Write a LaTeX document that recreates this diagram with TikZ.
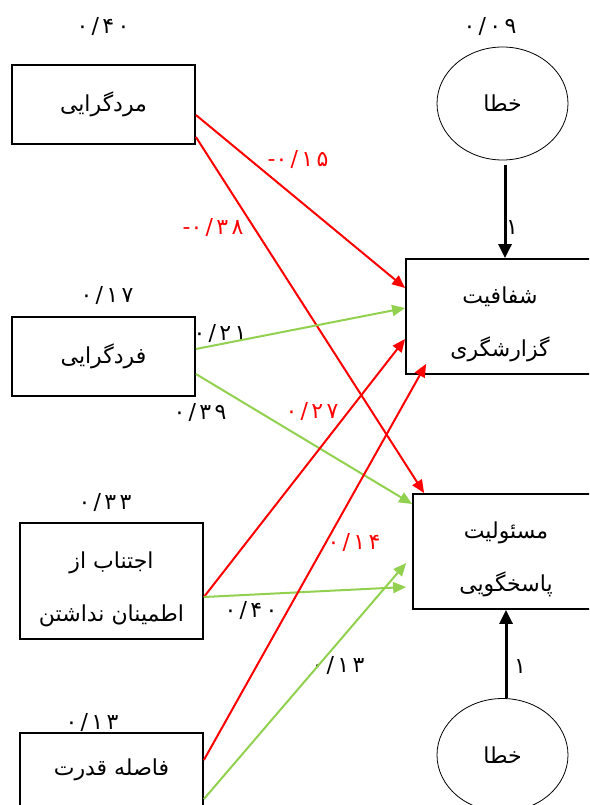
\documentclass[tikz,border=0pt]{standalone}
\usepackage{fontspec}
\usetikzlibrary{arrows.meta,calc,shapes.geometric}
\TeXXeTstate=1
\newfontfamily\fafont[Script=Arabic]{DejaVu Sans}
\newfontfamily\numfont[Script=Arabic,LetterSpace=15]{DejaVu Sans}
\definecolor{pathred}{RGB}{255,0,0}
\definecolor{pathgreen}{RGB}{146,208,80}

\begin{document}
\begin{tikzpicture}[x=1pt,y=-1pt,
  varbox/.style={draw=black, line width=1.8pt, inner sep=0pt, align=center,
    font=\fafont\fontsize{22}{53}\selectfont},
  boxtext/.style={inner sep=0pt, align=center,
    font=\fafont\fontsize{22}{53}\selectfont},
  errnode/.style={draw=black, ellipse, line width=0.8pt, inner sep=0pt,
    minimum width=131pt, minimum height=113pt,
    font=\fafont\fontsize{22}{24}\selectfont},
  coef/.style={inner sep=0pt, font=\numfont\fontsize{22}{24}\selectfont},
  negcoef/.style={coef, text=pathred},
  redpath/.style={draw=pathred, line width=2pt, -{Triangle[length=13pt,width=11pt]}},
  greenpath/.style={draw=pathgreen, line width=2pt, -{Triangle[length=13pt,width=11pt]}},
  errpath/.style={draw=black, line width=3pt, -{Triangle[length=14pt,width=13pt]}}]

\useasboundingbox (0,0) rectangle (589,805);
\fill[white] (0,0) rectangle (589,805);
\clip (0,0) rectangle (589,805);

% exogenous variables
\node[varbox, minimum width=183pt, minimum height=79pt] (b1) at (103.5,104.5) {\beginR مردگرایی\endR};
\node[varbox, minimum width=183pt, minimum height=79pt] (b2) at (103.5,356.5) {\beginR فردگرایی\endR};
\node[varbox, minimum width=183pt, minimum height=116pt] (b3) at (111.5,581) {};
\node[boxtext] (t3) at ($(b3.center)+(0,8)$) {\beginR اجتناب از\endR\\\beginR اطمینان نداشتن\endR};
\node[varbox, minimum width=183pt, minimum height=116pt] (b4) at (111.5,791) {};
\node[boxtext] (t4) at (111.5,770) {\beginR فاصله قدرت\endR};

% endogenous variables
\node[varbox, minimum width=188pt, minimum height=115pt] (b5) at (500,316.5) {};
\node[boxtext] (t5) at ($(b5.center)+(0,8)$) {\beginR شفافیت\endR\\\beginR گزارشگری\endR};
\node[varbox, minimum width=186pt, minimum height=115pt] (b6) at (506,551.5) {};
\node[boxtext] (t6) at ($(b6.center)+(0,8)$) {\beginR مسئولیت\endR\\\beginR پاسخگویی\endR};

% error terms
\node[errnode] (e1) at (502.5,103.5) {\beginR خطا\endR};
\node[errnode] (e2) at (502.5,755) {\beginR خطا\endR};

% variances
\node[coef] (v1) at (103,27) {۰/۴۰};
\node[coef] (v2) at (107,295) {۰/۱۷};
\node[coef] (v3) at (105,502) {۰/۳۳};
\node[coef] (v4) at (92,722) {۰/۱۳};
\node[coef] (v5) at (490,27) {۰/۰۹};

% path coefficients
\node[negcoef] (c1) at (298,160) {\hbox{-}\hbox{۰/۱۵}};
\node[negcoef] (c2) at (213,228) {\hbox{-}\hbox{۰/۳۸}};
\node[coef] (c3) at (220,333) {۰/۲۱};
\node[coef] (c4) at (200,412) {۰/۳۹};
\node[negcoef] (c5) at (312,411) {۰/۲۷};
\node[coef] (c6) at (251,610) {۰/۴۰};
\node[negcoef] (c7) at (354,542) {۰/۱۴};
\node[coef] (c8) at (338,665) {۰/۱۳};
\node[coef] (w1) at (512,228) {۱};
\node[coef] (w2) at (520,667) {۱};

% structural paths
\draw[redpath]   ($(b1.east)+(0,10.5)$) -- ($(b5.west)+(0,-28.5)$);
\draw[redpath]   ($(b1.east)+(0,32.5)$) -- ($(b6.north west)+(12,0)$);
\draw[greenpath] ($(b2.east)+(0,-7.5)$) -- ($(b5.west)+(0,-8.5)$);
\draw[greenpath] ($(b2.east)+(0,17.5)$) -- ($(b6.west)+(0,-47.5)$);
\draw[redpath]   ($(b3.east)+(0,16)$) -- ($(b5.west)+(0,22.5)$);
\draw[greenpath] ($(b3.east)+(0,16)$) -- ($(b6.west)+(-6,35.5)$);
\draw[redpath]   ($(b4.east)+(0,-31)$) -- ($(b5.south west)+(21,-11)$);
\draw[greenpath] ($(b4.east)+(0,8)$) -- ($(b6.west)+(-6,11.5)$);

% error paths
\draw[errpath] ($(e1.south)+(2.5,5)$) -- ($(b5.north)+(5,0)$);
\draw[errpath] ($(e2.north)+(3.5,0)$) -- (b6.south);
\end{tikzpicture}
\end{document}
